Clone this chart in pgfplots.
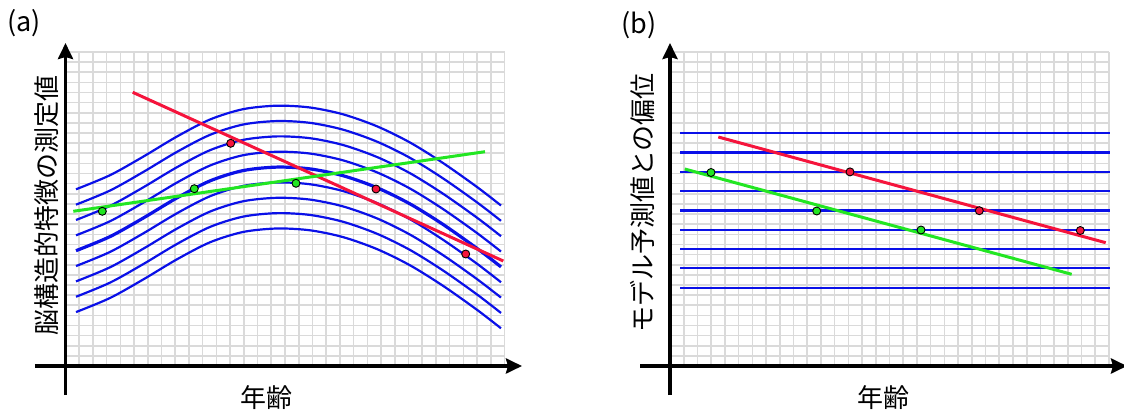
\documentclass[border=0pt]{standalone}
\usepackage{fontspec}
\setmainfont{Noto Sans CJK JP}
\usepackage{pgfplots}
\pgfplotsset{compat=1.18}
\usetikzlibrary{arrows.meta}
\definecolor{curveblue}{HTML}{0A10E8}
\definecolor{fitred}{HTML}{F5143C}
\definecolor{fitgreen}{HTML}{22E622}
\definecolor{gridgray}{HTML}{DADADA}

% shared look of both panels: 32 x 31 grid, 1 unit = 1pt
\pgfplotsset{
  panel/.style={
    scale only axis, width=439.2pt, height=314.2pt,
    xmin=0, xmax=439.2, ymin=0, ymax=314.2,
    enlargelimits=false, clip=false, anchor=south west,
    axis line style={draw=none}, tick style={draw=none},
    major tick length=0pt, xticklabels={}, yticklabels={},
    xtick={0,13.71875,...,439.1}, ytick={0,10.129,...,314.1},
    grid=major, grid style={line width=1.6pt, color=gridgray},
  },
  blueline/.style={curveblue, line width=2.2pt, no marks},
  fitline/.style={line width=3pt, no marks},
  dots/.style={only marks, mark=*, mark size=4pt,
    mark options={draw=black, line width=0.9pt, fill=#1}},
}
\tikzset{axarrow/.style={line width=3.6pt, -{Stealth[length=16pt,width=15pt,inset=2pt]}}}

\begin{document}
\begin{tikzpicture}[x=1pt,y=1pt]
\useasboundingbox (0,0) rectangle (1124,412);

% ---------------- (a) ----------------
\begin{axis}[panel, at={(65.5pt,46pt)}]
\addplot[blueline, smooth] coordinates {(10.5,176.7) (44.5,190.8) (77.5,209.2) (111.5,229.5) (144.5,246.5) (177.5,256.8) (211.5,260.3) (244.5,258.5) (277.5,251.7) (311.5,239.7) (344.5,223.5) (377.5,203.0) (411.5,179.0) (435.5,160.5)};
\addplot[blueline, smooth] coordinates {(10.5,161.35) (44.5,175.45) (77.5,193.85) (111.5,214.15) (144.5,231.15) (177.5,241.45) (211.5,244.95) (244.5,243.15) (277.5,236.35) (311.5,224.35) (344.5,208.15) (377.5,187.65) (411.5,163.65) (435.5,145.15)};
\addplot[blueline, smooth] coordinates {(10.5,146.0) (44.5,160.1) (77.5,178.5) (111.5,198.8) (144.5,215.8) (177.5,226.1) (211.5,229.6) (244.5,227.8) (277.5,221.0) (311.5,209.0) (344.5,192.8) (377.5,172.3) (411.5,148.3) (435.5,129.8)};
\addplot[blueline, smooth] coordinates {(10.5,130.65) (44.5,144.75) (77.5,163.15) (111.5,183.45) (144.5,200.45) (177.5,210.75) (211.5,214.25) (244.5,212.45) (277.5,205.65) (311.5,193.65) (344.5,177.45) (377.5,156.95) (411.5,132.95) (435.5,114.45)};
\addplot[blueline, smooth, line width=3.2pt] coordinates {(10.5,115.3) (44.5,129.4) (77.5,147.8) (111.5,168.1) (144.5,185.1) (177.5,195.4) (211.5,198.9) (244.5,197.1) (277.5,190.3) (311.5,178.3) (344.5,162.1) (377.5,141.6) (411.5,117.6) (435.5,99.1)};
\addplot[blueline, smooth] coordinates {(10.5,99.95) (44.5,114.05) (77.5,132.45) (111.5,152.75) (144.5,169.75) (177.5,180.05) (211.5,183.55) (244.5,181.75) (277.5,174.95) (311.5,162.95) (344.5,146.75) (377.5,126.25) (411.5,102.25) (435.5,83.75)};
\addplot[blueline, smooth] coordinates {(10.5,84.6) (44.5,98.7) (77.5,117.1) (111.5,137.4) (144.5,154.4) (177.5,164.7) (211.5,168.2) (244.5,166.4) (277.5,159.6) (311.5,147.6) (344.5,131.4) (377.5,110.9) (411.5,86.9) (435.5,68.4)};
\addplot[blueline, smooth] coordinates {(10.5,69.25) (44.5,83.35) (77.5,101.75) (111.5,122.05) (144.5,139.05) (177.5,149.35) (211.5,152.85) (244.5,151.05) (277.5,144.25) (311.5,132.25) (344.5,116.05) (377.5,95.55) (411.5,71.55) (435.5,53.05)};
\addplot[blueline, smooth] coordinates {(10.5,53.9) (44.5,68.0) (77.5,86.4) (111.5,106.7) (144.5,123.7) (177.5,134.0) (211.5,137.5) (244.5,135.7) (277.5,128.9) (311.5,116.9) (344.5,100.7) (377.5,80.2) (411.5,56.2) (435.5,37.7)};
\addplot[fitline, fitred] coordinates {(67.2,273.7) (437.8,105.0)};
\addplot[fitline, fitgreen] coordinates {(7.8,154.7) (419.5,214.3)};
\addplot[dots=fitred] coordinates {(165.2,222.7) (310.5,177.0) (400.2,112.0)};
\addplot[dots=fitgreen] coordinates {(36.8,154.7) (128.8,177.3) (230.5,182.7)};
\draw[axarrow] (axis cs:-30.5,0) -- (axis cs:456.5,0);
\draw[axarrow] (axis cs:0,-29) -- (axis cs:0,323);
\end{axis}

% ---------------- (b) ----------------
\begin{axis}[panel, at={(670pt,46pt)}]
\addplot[blueline] coordinates {(10,232.7) (439.5,232.7)};
\addplot[blueline] coordinates {(10,213.4) (439.5,213.4)};
\addplot[blueline] coordinates {(10,194.1) (439.5,194.1)};
\addplot[blueline] coordinates {(10,174.8) (439.5,174.8)};
\addplot[blueline, line width=3.2pt] coordinates {(10,155.5) (439.5,155.5)};
\addplot[blueline] coordinates {(10,136.2) (439.5,136.2)};
\addplot[blueline] coordinates {(10,116.9) (439.5,116.9)};
\addplot[blueline] coordinates {(10,97.6) (439.5,97.6)};
\addplot[blueline] coordinates {(10,78.3) (439.5,78.3)};
\addplot[fitline, fitred] coordinates {(48.3,229.0) (435.7,123.3)};
\addplot[fitline, fitgreen] coordinates {(14.7,197.0) (401.7,91.7)};
\addplot[dots=fitred] coordinates {(180,194.1) (309.3,155.3) (410.3,135.5)};
\addplot[dots=fitgreen] coordinates {(41,193.5) (146.7,155.0) (251,136.0)};
\draw[axarrow] (axis cs:-30,0) -- (axis cs:457,0);
\draw[axarrow] (axis cs:0,-29) -- (axis cs:0,323);
\end{axis}

% labels
\begin{scope}[every node/.style={font=\fontsize{26}{30}\selectfont, inner sep=0pt}]
\node[anchor=west, font=\fontsize{27}{30}\selectfont] at (7,389) {(a)};
\node[anchor=west, font=\fontsize{27}{30}\selectfont] at (621,387) {(b)};
\node[rotate=90] at (46.5,206) {脳構造的特徴の測定値};
\node[rotate=90] at (642.5,209) {モデル予測値との偏位};
\node at (266,14) {年齢};
\node at (883,14) {年齢};
\end{scope}
\end{tikzpicture}
\end{document}
